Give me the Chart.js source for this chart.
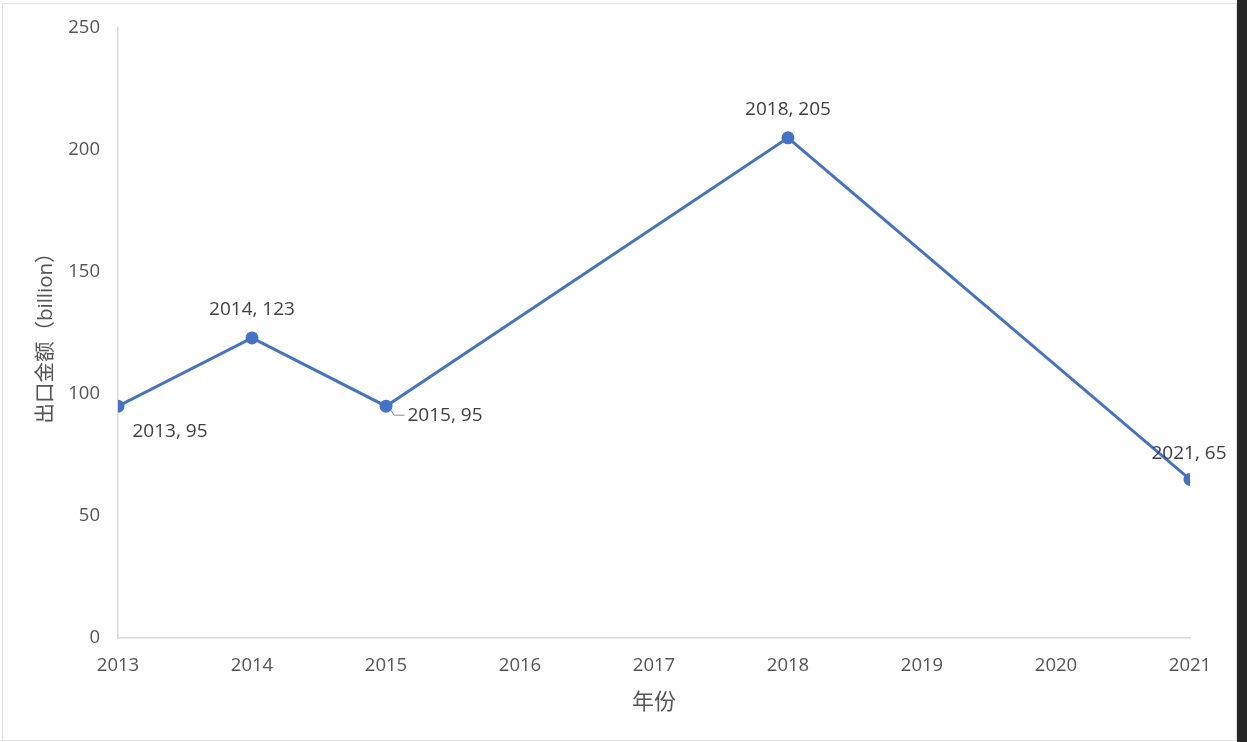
<!DOCTYPE html>
<html>
<head>
<meta charset="utf-8">
<script src="https://cdn.jsdelivr.net/npm/chart.js@4"></script>
<style>
  html, body { margin: 0; padding: 0; background: #fff; overflow: hidden; }
  #wrap { position: absolute; left: 0; top: 0; width: 1237px; height: 742px; }
  #frame { position: absolute; left: 2px; top: 3px; width: 1233px; height: 736px;
           border: 1px solid #e2e2e2; pointer-events: none; }
  #side { position: absolute; left: 1237px; top: 0; width: 10px; height: 742px; background: #272727; }
</style>
</head>
<body>
<div id="wrap"><canvas id="graphCanvas"></canvas></div>
<div id="frame"></div>
<div id="side"></div>
<script>
const years = [2013, 2014, 2015, 2018, 2021];
const values = [95, 123, 95, 205, 65];
const xTicks = [2013, 2014, 2015, 2016, 2017, 2018, 2019, 2020, 2021];
const yTicks = [0, 50, 100, 150, 200, 250];
const xTitle = '年份';
const yTitle = '出口金额（billion）';

// where each data label sits relative to its point (px)
const labelOffsets = [
    { dx: 52, dy: 25 },
    { dx: 0, dy: -28 },
    { dx: 59, dy: 9, leader: true },
    { dx: 0, dy: -28 },
    { dx: -1, dy: -26 }
];

const textColor = '#555555';
const lineColor = '#4472C4';
const fontFamily = "'Open Sans', 'Noto Sans CJK SC', sans-serif";

const dataLabels = {
    id: 'dataLabels',
    afterDatasetsDraw(chart) {
        const ctx = chart.ctx;
        const meta = chart.getDatasetMeta(0);
        ctx.save();
        ctx.font = '19px ' + fontFamily;
        ctx.fillStyle = '#404040';
        ctx.textAlign = 'center';
        ctx.textBaseline = 'middle';
        meta.data.forEach((pt, i) => {
            const off = labelOffsets[i];
            const text = years[i] + ', ' + values[i];
            ctx.fillText(text, pt.x + off.dx, pt.y + off.dy);
            if (off.leader) {
                const w = ctx.measureText(text).width;
                const lx = pt.x + off.dx - w / 2 - 3;
                ctx.strokeStyle = '#8c8c8c';
                ctx.lineWidth = 1;
                ctx.beginPath();
                ctx.moveTo(pt.x + 5, pt.y + 4);
                ctx.lineTo(pt.x + 8, pt.y + off.dy);
                ctx.lineTo(lx, pt.y + off.dy);
                ctx.stroke();
            }
        });
        ctx.restore();
    }
};

const ctx = document.getElementById('graphCanvas').getContext('2d');
const chart = new Chart(ctx, {
    type: 'line',
    data: {
        datasets: [{
            data: years.map((y, i) => ({ x: y, y: values[i] })),
            borderColor: lineColor,
            backgroundColor: lineColor,
            borderWidth: 3,
            pointRadius: 5,
            pointHoverRadius: 5,
            tension: 0,
            fill: false
        }]
    },
    options: {
        responsive: true,
        maintainAspectRatio: false,
        animation: false,
        layout: { padding: { left: 0, top: 28, right: 47, bottom: 0 } },
        plugins: {
            legend: { display: false },
            tooltip: { enabled: false }
        },
        scales: {
            x: {
                type: 'linear',
                min: xTicks[0],
                max: xTicks[xTicks.length - 1],
                afterBuildTicks: s => { s.ticks = xTicks.map(v => ({ value: v })); },
                afterFit: s => { s.height = 104; },
                grid: { display: false },
                border: { display: true, color: '#d9d9d9', width: 1.5 },
                ticks: {
                    color: textColor,
                    font: { family: fontFamily, size: 18.5 },
                    padding: 9,
                    maxRotation: 0,
                    callback: v => String(v)
                },
                title: {
                    display: true,
                    text: xTitle,
                    color: textColor,
                    font: { family: fontFamily, size: 22 },
                    padding: { top: 0, bottom: 26 }
                }
            },
            y: {
                min: yTicks[0],
                max: yTicks[yTicks.length - 1],
                afterBuildTicks: s => { s.ticks = yTicks.map(v => ({ value: v })); },
                afterFit: s => { s.width = 118; },
                grid: { display: false },
                border: { display: true, color: '#d9d9d9', width: 1.5 },
                ticks: {
                    color: textColor,
                    font: { family: fontFamily, size: 18.5 },
                    padding: 10
                },
                title: {
                    display: true,
                    text: yTitle,
                    color: textColor,
                    font: { family: fontFamily, size: 20.5 },
                    padding: { top: 34, bottom: 0 }
                }
            }
        }
    },
    plugins: [dataLabels]
});
</script>
</body>
</html>
